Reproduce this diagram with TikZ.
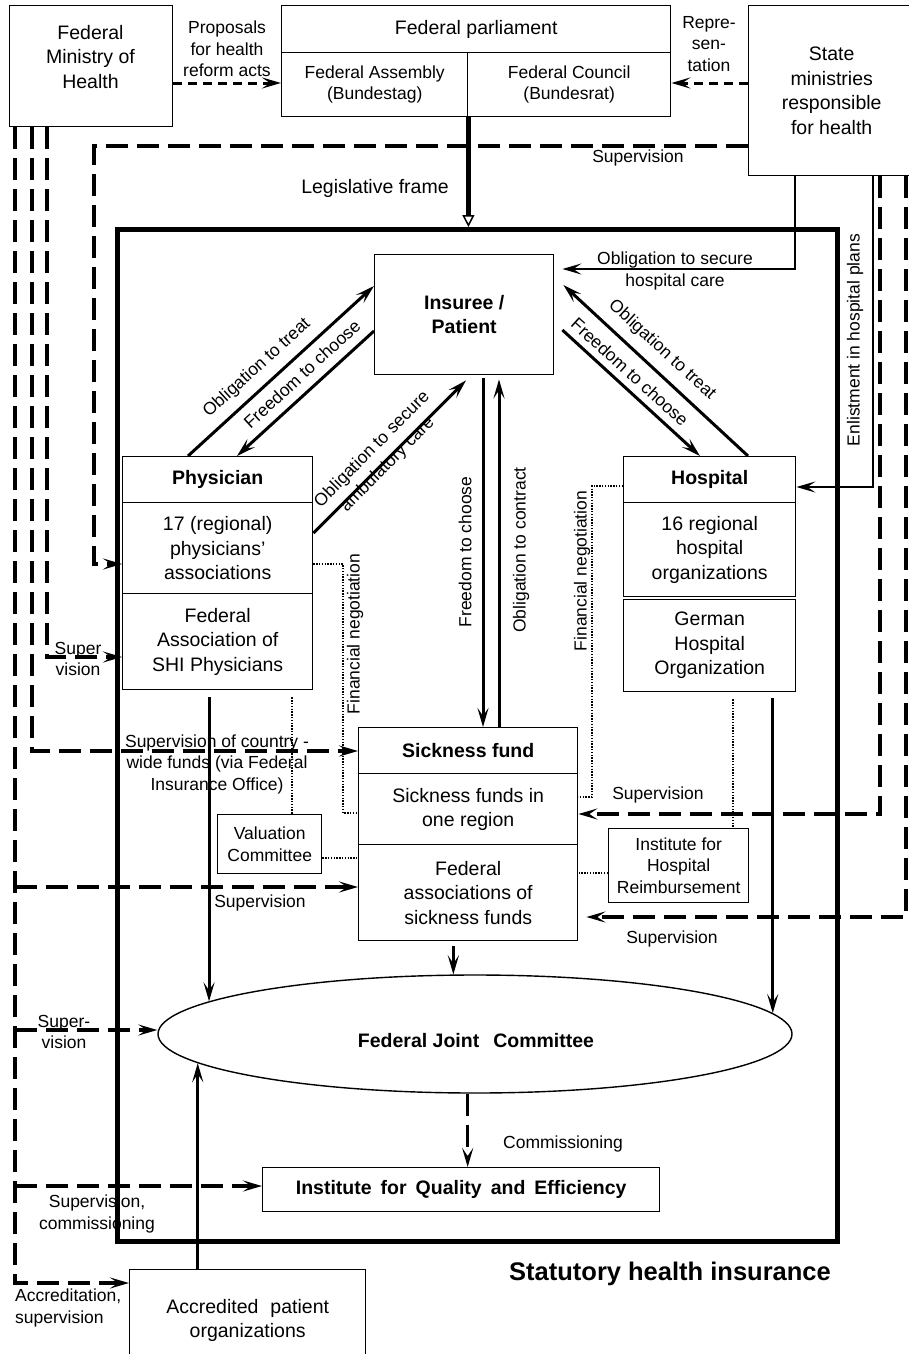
\documentclass[tikz,border=0pt]{standalone}
\usepackage{fontspec}
\setmainfont{Liberation Sans}
\usetikzlibrary{arrows.meta,shapes.geometric,calc}
\newcommand\fA{\fontsize{19.5}{24.5}\selectfont}
\newcommand\fB{\fontsize{17.5}{21.5}\selectfont}
\newcommand\fC{\fontsize{25.5}{30}\selectfont}
\newcommand\iqsp{\hspace{9pt}}
\tikzset{
 box/.style={draw, line width=1.4pt, anchor=north west, inner sep=0pt, align=center, font=\fA},
 sbox/.style={box, font=\fB},
 lab/.style={align=center, inner sep=0pt, font=\fB},
 blab/.style={align=center, inner sep=0pt, font=\fA},
 tip/.style={-{Stealth[length=19pt,width=11pt,inset=8pt]}},
 sol/.style={line width=3pt, tip},
 tsol/.style={line width=2.2pt, tip},
 dsh/.style={line width=3.2pt, dash pattern=on 22pt off 9pt, tip},
 sdsh/.style={line width=3pt, dash pattern=on 9pt off 6pt, tip},
 dot/.style={line width=2pt, dash pattern=on 1.4pt off 1.4pt},
 legis/.style={line width=5pt, -{Triangle[open,length=12pt,width=12pt,line width=1.5pt]}},
 frm/.style={draw, line width=5pt, anchor=north west, inner sep=0pt},
}
\begin{document}
\begin{tikzpicture}[x=1pt,y=-1pt]
\useasboundingbox (0,0) rectangle (909,1354);
% frame
\node[frm, minimum width=720, minimum height=1012] (shi) at (115,227) {};
% boxes
\node[box, minimum width=163, minimum height=121] (bmg) at (9,5) {};
\node[blab] at (90.5,57) {Federal\\Ministry of\\Health};
\node[box, minimum width=389, minimum height=47] (pa1) at (281,5) {Federal parliament};
\node[box, minimum width=186, minimum height=64, font=\fB] (pa2) at (281,52) {Federal Assembly\\(Bundestag)};
\node[box, minimum width=203, minimum height=64, font=\fB] (pa3) at (467,52) {Federal Council\\(Bundesrat)};
\node[box, minimum width=166, minimum height=170] (smh) at (748,5) {State\\ministries\\responsible\\for health};
\node[box, minimum width=179, minimum height=120, font=\fA\bfseries] (ins) at (374,254) {Insuree /\\Patient};
\node[box, minimum width=190, minimum height=46, font=\fA\bfseries] (ph1) at (122,456) {Physician};
\node[box, minimum width=190, minimum height=91] (ph2) at (122,502) {17 (regional)\\physicians’\\associations};
\node[box, minimum width=190, minimum height=96] (ph3) at (122,593) {Federal\\Association of\\SHI Physicians};
\node[box, minimum width=172, minimum height=46, font=\fA\bfseries] (ho1) at (623,456) {Hospital};
\node[box, minimum width=172, minimum height=94] (ho2) at (623,502) {16 regional\\hospital\\organizations};
\node[box, minimum width=172, minimum height=92.5] (ho3) at (623,598.5) {German\\Hospital\\Organization};
\node[box, minimum width=219, minimum height=46, font=\fA\bfseries] (sf1) at (358,727) {Sickness fund};
\node[box, minimum width=219, minimum height=71] (sf2) at (358,773) {Sickness funds in\\one region};
\node[box, minimum width=219, minimum height=96] (sf3) at (358,844) {Federal\\associations of\\sickness funds};
\node[sbox, minimum width=104, minimum height=59] (val) at (217,814) {Valuation\\Committee};
\node[sbox, minimum width=140, minimum height=74] (ihr) at (608,828) {Institute for\\Hospital\\Reimbursement};
\node[draw, ellipse, line width=1.4pt, minimum width=634, minimum height=118, inner sep=0pt] (fjc) at (475,1034) {};
\node[blab, font=\fA\bfseries] at (476,1041) {Federal Joint\hspace{14pt}Committee};
\node[box, minimum width=397, minimum height=44, font=\fA\bfseries] (iqe) at (262,1167) {Institute\iqsp for\iqsp Quality\iqsp and\iqsp Efficiency};
\node[box, minimum width=236, minimum height=101] (apo) at (129,1269) {Accredited\hspace{12pt}patient\\organizations};
\node[font=\fC\bfseries, inner sep=0pt] at (670,1274) {Statutory health insurance};

% top arrows
\coordinate (yP) at (0,83);
\draw[sdsh] (bmg.east |- yP) -- (pa2.west |- yP);
\draw[sdsh] (smh.west |- yP) -- (pa3.east |- yP);
\draw[legis] (pa2.south east) -- (pa2.south east |- shi.north);
\coordinate (s1) at (94,146); \coordinate (s2) at (94,564);
\draw[dsh] (smh.west |- s1) -- (s1) -- (s2) -- (ph2.west |- s2);
\coordinate (h1) at (795,269);
\draw[tsol, shorten >=8pt] (smh.south -| h1) -- (h1) -- (ins.east |- h1);
\coordinate (e1) at (873,487);
\draw[tsol] (smh.south -| e1) -- (e1) -- (ho1.east |- e1);
\coordinate (d1) at (880,814);
\draw[dsh] (smh.south -| d1) -- (d1) -- (sf2.east |- d1);
\coordinate (d2) at (906,917);
\draw[dsh, shorten >=8pt] (smh.south -| d2) -- (d2) -- (sf3.east |- d2);
% ministry lines
\coordinate (a1) at (47,657);
\draw[dsh] (bmg.south -| a1) -- (a1) -- (ph3.west |- a1);
\coordinate (b1) at (32,751);
\draw[dsh] (bmg.south -| b1) -- (b1) -- (sf1.west |- b1);
\coordinate (c1) at (15,1283);
\draw[dsh] (bmg.south -| c1) -- (c1) -- (apo.west |- c1);
\coordinate (c2) at (15,887);
\draw[dsh] (c2) -- (sf3.west |- c2);
\coordinate (c3) at (15,1030);
\draw[dsh] (c3) -- (fjc.west |- c3);
\coordinate (c4) at (15,1186);
\draw[dsh] (c4) -- (iqe.west |- c4);
% diagonals
\draw[sol] ($(ph1.north west)+(66,0)$) -- ($(ins.north west)+(0,32)$);
\draw[sol] ($(ins.north west)+(0,77)$) -- ($(ph1.north west)+(115,0)$);
\draw[sol] ($(ph2.north east)+(0,31)$) -- ($(ins.south west)+(92,5)$);
\draw[sol] ($(ho1.north west)+(125,0)$) -- ($(ins.north east)+(9,31)$);
\draw[sol] ($(ins.north east)+(8,76)$) -- ($(ho1.north west)+(77,0)$);
\draw[sol] ($(ins.south west)+(109,3)$) -- ($(sf1.north west)+(125,0)$);
\draw[sol] ($(sf1.north west)+(141,0)$) -- ($(ins.south west)+(125,4)$);
% dotted
\coordinate (f1) at (343,564); \coordinate (f2) at (343,813);
\draw[dot] (ph2.east |- f1) -- (f1) -- (f2) -- (sf2.west |- f2);
\coordinate (g1) at (592,486); \coordinate (g2) at (592,797);
\draw[dot] (ho1.west |- g1) -- (g1) -- (g2) -- (sf2.east |- g2);
\coordinate (v1) at (292,0);
\draw[dot, shorten <=7pt] (ph3.south -| v1) -- (val.north -| v1);
\coordinate (v2) at (0,858);
\draw[dot] (val.east |- v2) -- (sf3.west |- v2);
\coordinate (w1) at (733,0);
\draw[dot, shorten <=7pt] (ho3.south -| w1) -- (ihr.north -| w1);
\coordinate (w2) at (0,873);
\draw[dot] (ihr.west |- w2) -- (sf3.east |- w2);
% to joint committee
\draw[sol, shorten <=7pt] (ph3.south -| fjc.173.64) -- (fjc.173.64);
\draw[sol, shorten <=5pt] (sf3.south -| fjc.110.49) -- (fjc.110.49);
\draw[sol, shorten <=6pt] (ho3.south -| fjc.4.99) -- (fjc.4.99);
\draw[sol] (apo.north -| fjc.186.36) -- (fjc.186.36);
\draw[dsh] (fjc.263.23) -- (iqe.north -| fjc.263.23);
% labels
\node[lab] at (227,49) {Proposals\\for health\\reform acts};
\node[lab] at (709,44) {Repre-\\sen-\\tation};
\node[blab] at (375,188) {Legislative frame};
\node[lab] at (638,158) {Supervision};
\node[lab] at (675,271) {Obligation to secure\\hospital care};
\node[lab, rotate=90] at (855,340) {Enlistment in hospital plans};
\node[lab, rotate=42.4] at (257,368) {Obligation to treat};
\node[lab, rotate=42.4] at (302,374) {Freedom to choose};
\node[lab, rotate=45.4] at (380,457) {Obligation to secure\\ambulatory care};
\node[lab, rotate=-42.4] at (662,350) {Obligation to treat};
\node[lab, rotate=-42.2] at (630,372) {Freedom to choose};
\node[lab, rotate=90] at (465,552) {Freedom to choose};
\node[lab, rotate=90] at (521,550) {Obligation to contract};
\node[lab, rotate=90] at (355,634) {Financial negotiation};
\node[lab, rotate=90] at (582,571) {Financial negotiation};
\node[lab] at (78,659) {Super\\vision};
\node[lab] at (217,764) {Supervision of country -\\wide funds (via Federal\\Insurance Office)};
\node[lab] at (658,795) {Supervision};
\node[lab] at (260,903) {Supervision};
\node[lab] at (672,939) {Supervision};
\node[lab] at (64,1032) {Super-\\vision};
\node[lab] at (563,1144) {Commissioning};
\node[lab] at (97,1214) {Supervision,\\commissioning};
\node[lab, align=left, anchor=west] at (15,1308) {Accreditation,\\supervision};
\end{tikzpicture}
\end{document}
